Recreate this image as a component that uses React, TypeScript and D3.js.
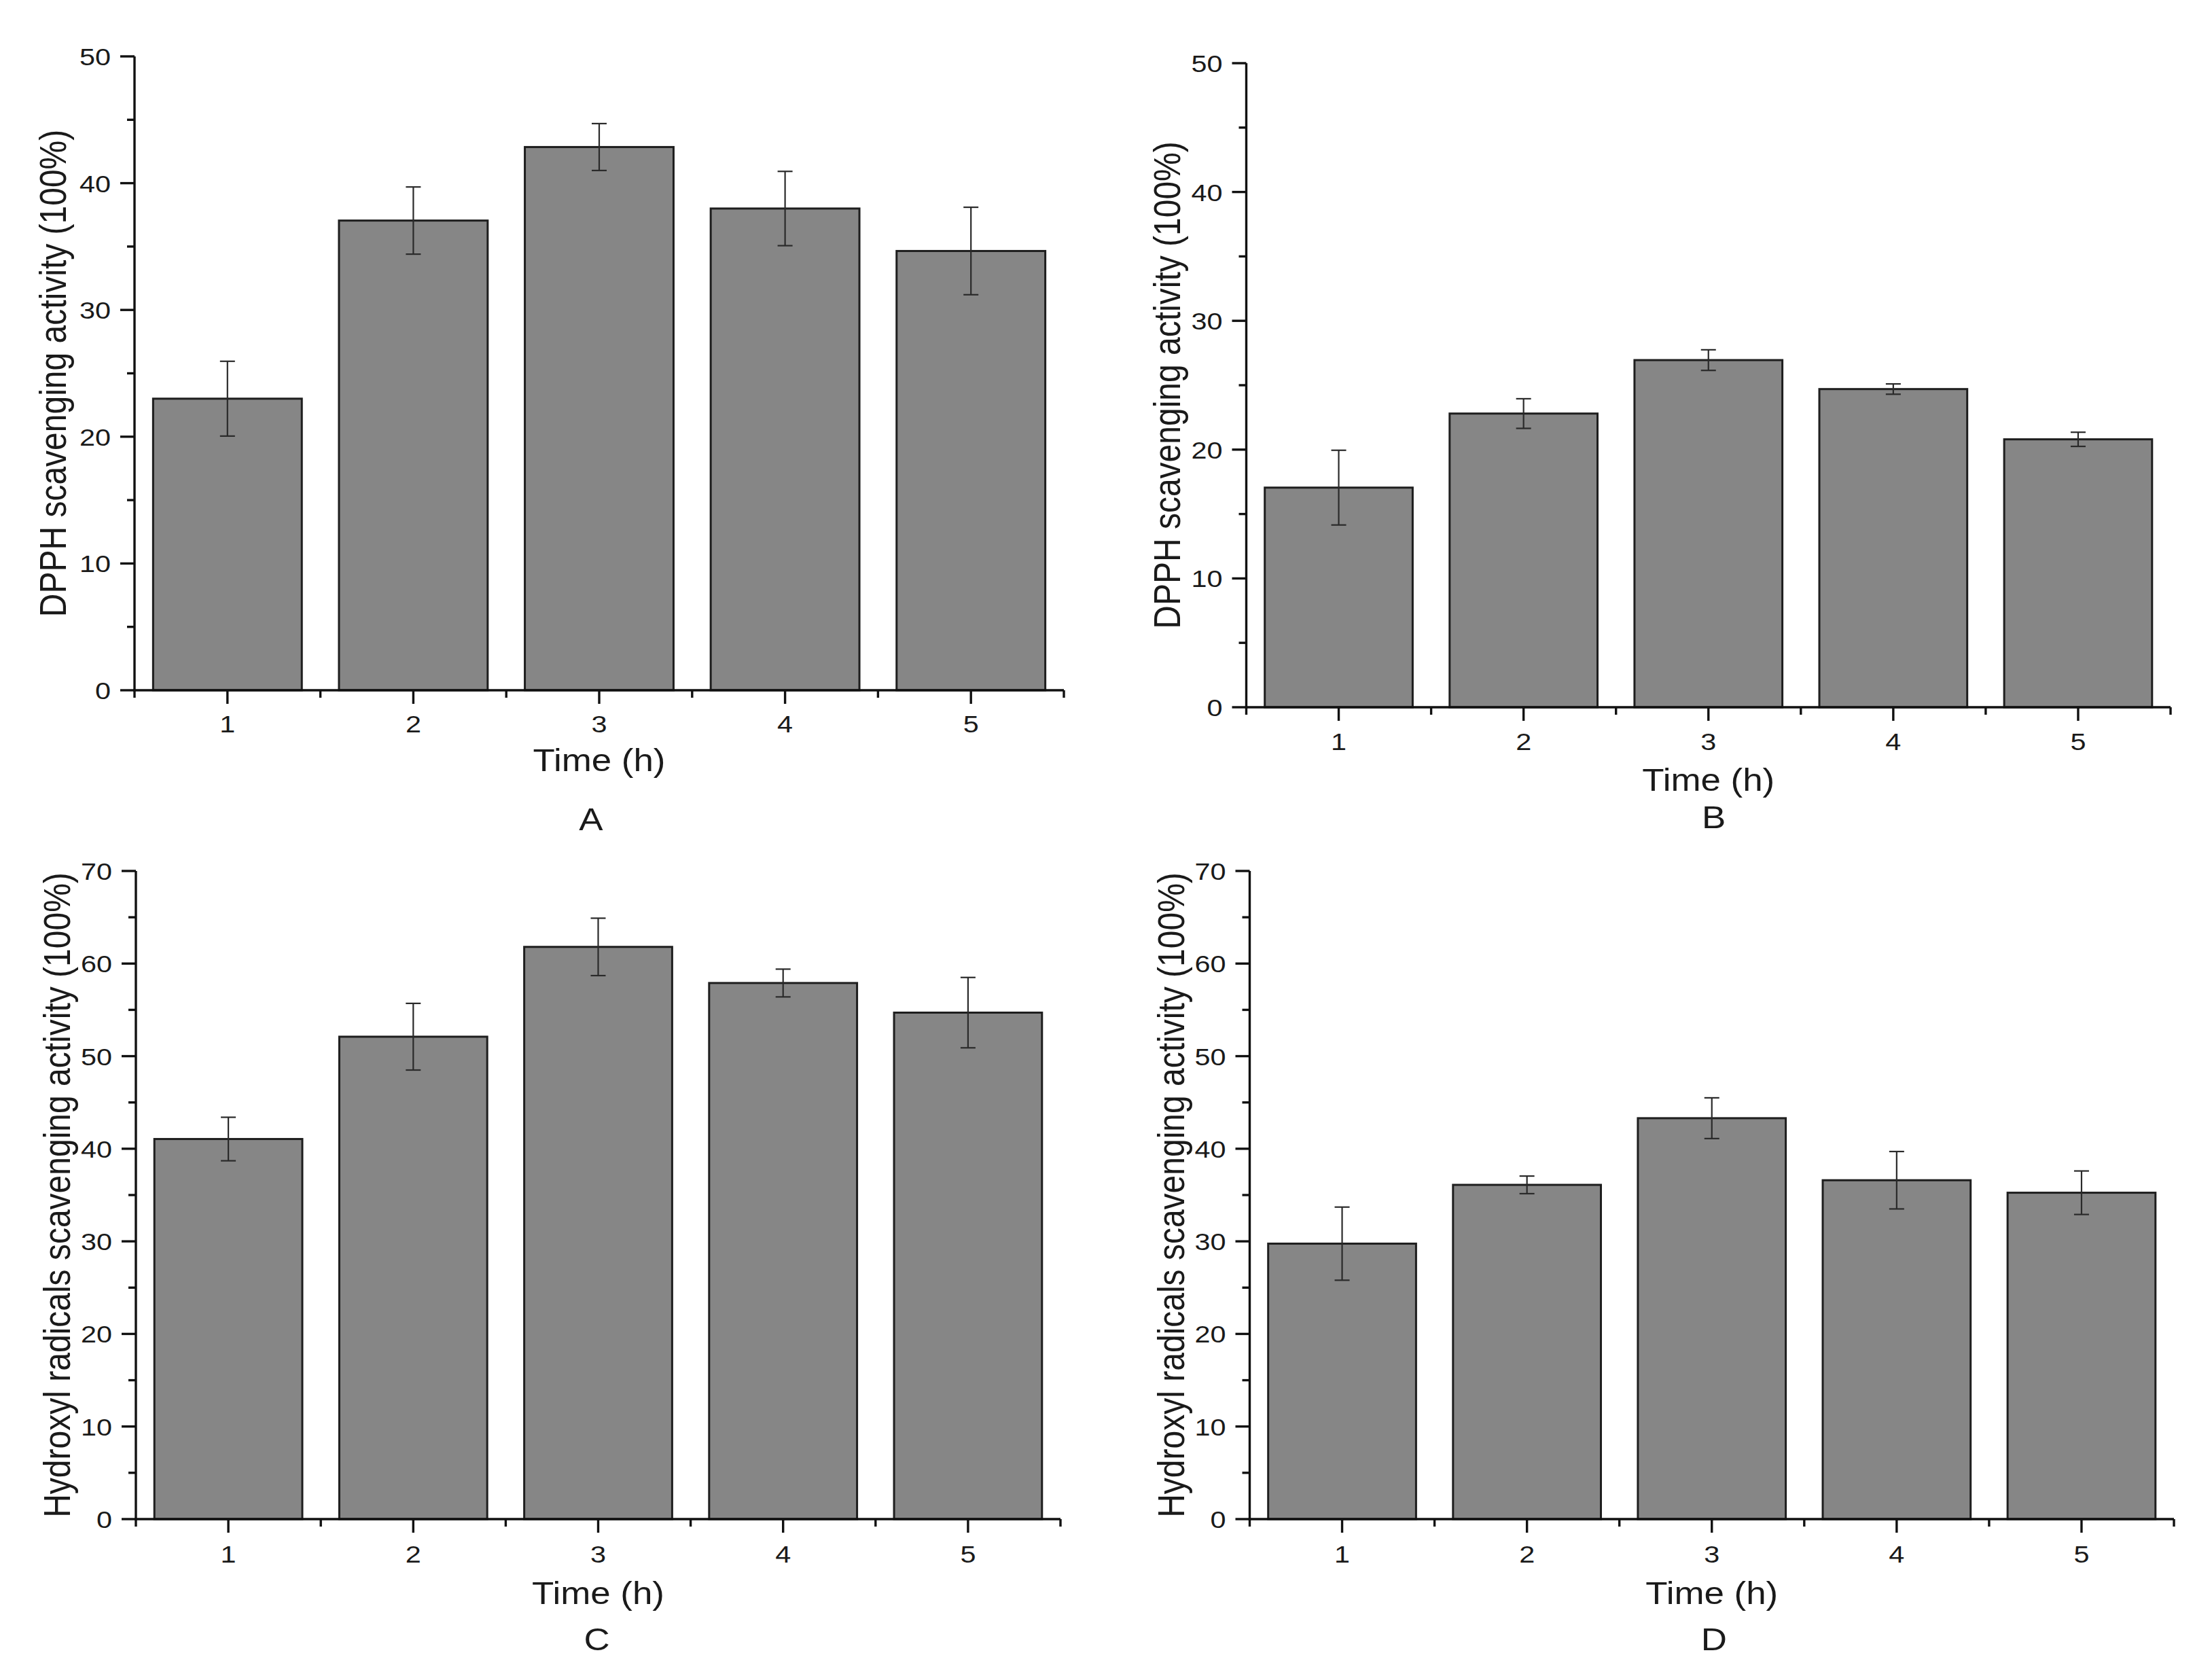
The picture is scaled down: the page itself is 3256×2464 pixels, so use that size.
import React from "react";
import * as d3 from "d3";

// ---------- data ----------
const timeHours = [1, 2, 3, 4, 5];

const dpphA = [23.0, 37.05, 42.85, 38.0, 34.65];
const dpphAErr = [2.95, 2.65, 1.85, 2.93, 3.45];

const dpphB = [17.05, 22.8, 26.95, 24.7, 20.8];
const dpphBErr = [2.9, 1.15, 0.8, 0.4, 0.55];

const hydroxylC = [41.05, 52.1, 61.8, 57.9, 54.7];
const hydroxylCErr = [2.35, 3.6, 3.1, 1.5, 3.8];

const hydroxylD = [29.75, 36.1, 43.3, 36.6, 35.25];
const hydroxylDErr = [3.95, 0.95, 2.2, 3.1, 2.35];

const dpphLabel = "DPPH scavenging activity (100%)";
const hydroxylLabel = "Hydroxyl radicals scavenging activity (100%)";
const xLabel = "Time (h)";

// ---------- layout ----------
const W = 3256;
const H = 2464;
const FONT = "'Liberation Sans', Arial, Helvetica, sans-serif";
const SX = 1.15; // horizontal stretch of the glyphs in the reference
const TEXT = "#1a1a1a";
const TICK_FS = 36;

type PanelProps = {
  values: number[];
  errors: number[];
  yMax: number;
  yLabel: string;
  letter: string;
  x0: number;
  x1: number;
  yTop: number;
  yBottom: number;
  yLabelX: number;
  tickOff: number;
  titleOff: number;
  letterOff: number;
  letterDx: number;
};

function Panel(p: PanelProps) {
  const x = d3.scaleLinear().domain([0.5, 5.5]).range([p.x0, p.x1]);
  const y = d3.scaleLinear().domain([0, p.yMax]).range([p.yBottom, p.yTop]);
  const step = x(2) - x(1);
  const barW = step * 0.8;
  const capW = 22;

  const majorY = d3.range(0, p.yMax + 0.001, 10);
  const minorY = d3.range(5, p.yMax, 10);
  const minorX = d3.range(0.5, 5.51, 1);

  const cx = (p.x0 + p.x1) / 2;
  const cy = (p.yTop + p.yBottom) / 2;

  return (
    <g>
      {/* bars */}
      {timeHours.map((t, i) => (
        <rect
          key={"b" + t}
          x={x(t) - barW / 2}
          y={y(p.values[i])}
          width={barW}
          height={y(0) - y(p.values[i])}
          fill="#868686"
          stroke="#1e1e1e"
          strokeWidth={3}
        />
      ))}
      {/* error bars */}
      {timeHours.map((t, i) => {
        const hi = y(p.values[i] + p.errors[i]);
        const lo = y(p.values[i] - p.errors[i]);
        const xc = x(t);
        return (
          <g key={"e" + t} stroke="#2a2a2a" strokeWidth={2.2}>
            <line x1={xc} x2={xc} y1={hi} y2={lo} />
            <line x1={xc - capW / 2} x2={xc + capW / 2} y1={hi} y2={hi} />
            <line x1={xc - capW / 2} x2={xc + capW / 2} y1={lo} y2={lo} />
          </g>
        );
      })}
      {/* axes */}
      <g stroke="#111" strokeWidth={3.4}>
        <line x1={p.x0} x2={p.x0} y1={p.yTop} y2={p.yBottom + 1.7} />
        <line x1={p.x0 - 1.7} x2={p.x1} y1={p.yBottom} y2={p.yBottom} />
        {majorY.map((v) => (
          <line key={"my" + v} x1={p.x0 - 21} x2={p.x0} y1={y(v)} y2={y(v)} />
        ))}
        {minorY.map((v) => (
          <line key={"ny" + v} x1={p.x0 - 11} x2={p.x0} y1={y(v)} y2={y(v)} />
        ))}
        {timeHours.map((t) => (
          <line key={"mx" + t} x1={x(t)} x2={x(t)} y1={p.yBottom} y2={p.yBottom + 20} />
        ))}
        {minorX.map((t) => (
          <line key={"nx" + t} x1={x(t)} x2={x(t)} y1={p.yBottom} y2={p.yBottom + 11} />
        ))}
      </g>
      {/* y tick labels */}
      {majorY.map((v) => (
        <text
          key={"ty" + v}
          transform={`translate(${p.x0 - 35},${y(v) + 13}) scale(${SX},1)`}
          textAnchor="end"
          fontFamily={FONT}
          fontSize={TICK_FS}
          fill={TEXT}
        >
          {v}
        </text>
      ))}
      {/* x tick labels */}
      {timeHours.map((t) => (
        <text
          key={"tx" + t}
          transform={`translate(${x(t)},${p.yBottom + p.tickOff}) scale(${SX},1)`}
          textAnchor="middle"
          fontFamily={FONT}
          fontSize={TICK_FS}
          fill={TEXT}
        >
          {t}
        </text>
      ))}
      {/* x title */}
      <text
        transform={`translate(${cx},${p.yBottom + p.titleOff}) scale(${SX},1)`}
        textAnchor="middle"
        fontFamily={FONT}
        fontSize={46}
        fill={TEXT}
      >
        {xLabel}
      </text>
      {/* y title */}
      <text
        transform={`translate(${p.yLabelX},${cy}) scale(${SX},1) rotate(-90)`}
        textAnchor="middle"
        fontFamily={FONT}
        fontSize={48}
        fill={TEXT}
      >
        {p.yLabel}
      </text>
      {/* panel letter */}
      <text
        transform={`translate(${cx + p.letterDx},${p.yBottom + p.letterOff}) scale(${SX},1)`}
        textAnchor="middle"
        fontFamily={FONT}
        fontSize={46}
        fill={TEXT}
      >
        {p.letter}
      </text>
    </g>
  );
}

export default function App() {
  return (
    <svg
      width={W}
      height={H}
      viewBox={`0 0 ${W} ${H}`}
      style={{ position: "absolute", left: 0, top: 0, background: "#fff" }}
    >
      <rect x={0} y={0} width={W} height={H} fill="#fff" />
      <Panel
        values={dpphA}
        errors={dpphAErr}
        yMax={50}
        yLabel={dpphLabel}
        letter="A"
        x0={198}
        x1={1566}
        yTop={83}
        yBottom={1016}
        yLabelX={97}
        tickOff={62}
        titleOff={119}
        letterOff={206}
        letterDx={-12}
      />
      <Panel
        values={dpphB}
        errors={dpphBErr}
        yMax={50}
        yLabel={dpphLabel}
        letter="B"
        x0={1834.5}
        x1={3195}
        yTop={93}
        yBottom={1041}
        yLabelX={1737}
        tickOff={63}
        titleOff={123}
        letterOff={178}
        letterDx={8}
      />
      <Panel
        values={hydroxylC}
        errors={hydroxylCErr}
        yMax={70}
        yLabel={hydroxylLabel}
        letter="C"
        x0={200}
        x1={1561}
        yTop={1282}
        yBottom={2236}
        yLabelX={103}
        tickOff={64}
        titleOff={125}
        letterOff={193}
        letterDx={-2}
      />
      <Panel
        values={hydroxylD}
        errors={hydroxylDErr}
        yMax={70}
        yLabel={hydroxylLabel}
        letter="D"
        x0={1839.5}
        x1={3200}
        yTop={1282}
        yBottom={2236}
        yLabelX={1743}
        tickOff={64}
        titleOff={125}
        letterOff={193}
        letterDx={3}
      />
    </svg>
  );
}
